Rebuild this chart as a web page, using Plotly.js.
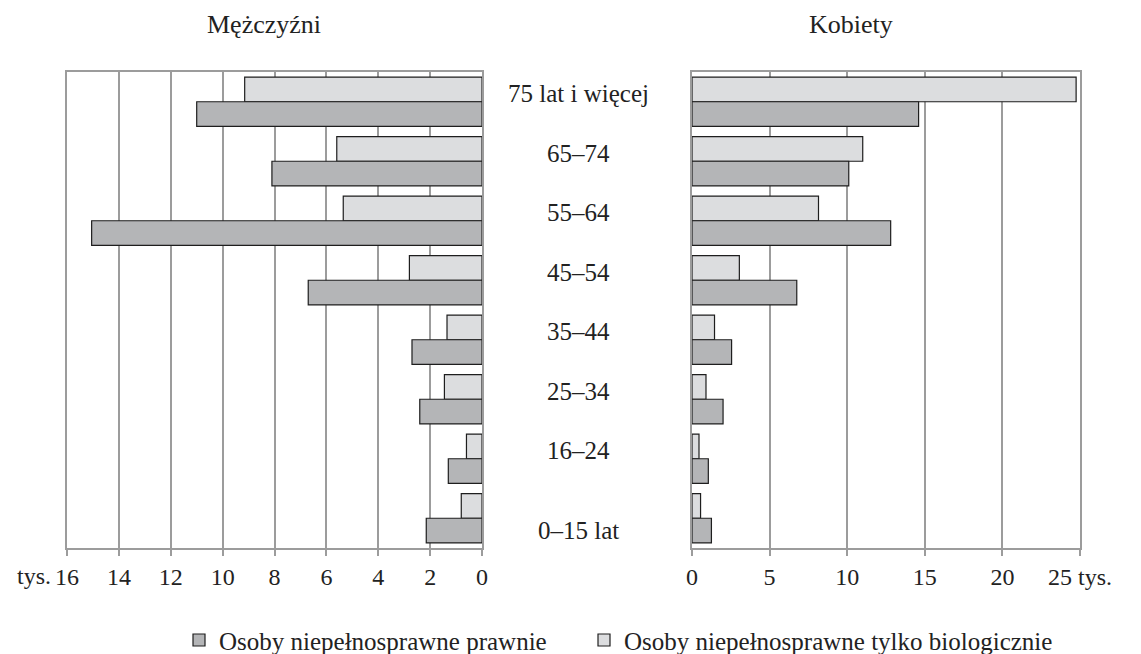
<!DOCTYPE html>
<html>
<head>
<meta charset="utf-8">
<script src="https://cdn.plot.ly/plotly-3.0.1.min.js"></script>
<style>html,body{margin:0;padding:0;background:#fff;}#chart{width:1141px;height:654px;}</style>
</head>
<body>
<div id="chart"></div>
<script>
// Age groups (top to bottom)
const categories = ["75 lat i więcej", "65–74", "55–64", "45–54", "35–44", "25–34", "16–24", "0–15 lat"];
// Men (thousands)
const menLegal = [11.0, 8.1, 15.05, 6.7, 2.7, 2.4, 1.3, 2.15];
const menBiological = [9.15, 5.6, 5.35, 2.8, 1.35, 1.45, 0.6, 0.8];
// Women (thousands)
const womenLegal = [14.6, 10.1, 12.8, 6.75, 2.55, 2.0, 1.05, 1.25];
const womenBiological = [24.75, 11.0, 8.15, 3.05, 1.45, 0.9, 0.45, 0.55];
const seriesNames = ["Osoby niepełnosprawne prawnie", "Osoby niepełnosprawne tylko biologicznie"];
const panelTitles = ["Mężczyźni", "Kobiety"];
const menTickVals = [16, 14, 12, 10, 8, 6, 4, 2, 0];
const menTickText = ["16", "14", "12", "10", "8", "6", "4", "2", "0"];
const womenTickVals = [0, 5, 10, 15, 20, 25];
const womenTickText = ["0", "5", "10", "15", "20", "25 tys."];

const FONT = "Liberation Serif, Times New Roman, serif";
const DARK = "#b4b5b7", LIGHT = "#dcdddf", EDGE = "#1e1e1e", GRID = "#9c9c9c";

function bar(x, name, color, xa, ya, show, lg) {
  return {type: "bar", orientation: "h", x: x, y: categories, name: name,
    xaxis: xa, yaxis: ya, showlegend: show, legend: lg,
    marker: {color: color, line: {color: EDGE, width: 1.2}}, hoverinfo: "x+y"};
}
const traces = [
  bar(menBiological, seriesNames[1], LIGHT, "x", "y", true, "legend2"),
  bar(menLegal, seriesNames[0], DARK, "x", "y", true, "legend"),
  bar(womenBiological, seriesNames[1], LIGHT, "x2", "y2", false, "legend2"),
  bar(womenLegal, seriesNames[0], DARK, "x2", "y2", false, "legend")
];

const axisCommon = {showgrid: true, gridcolor: GRID, gridwidth: 2, showline: true, linecolor: GRID, linewidth: 2,
  mirror: true, ticks: "outside", ticklen: 6, tickwidth: 2, tickcolor: GRID, zeroline: false,
  tickfont: {family: FONT, size: 24, color: "#222"}, fixedrange: true};

const annotations = [];
panelTitles.forEach((t, i) => annotations.push({text: t, xref: "paper", yref: "paper",
  x: i === 0 ? 0.1945 : 0.774, y: 1.099, xanchor: "center", yanchor: "middle", showarrow: false,
  font: {family: FONT, size: 26, color: "#222"}}));
categories.forEach((c, i) => annotations.push({text: c, xref: "paper", yref: "y", x: 0.5054, y: c,
  xanchor: "center", yanchor: "middle", showarrow: false, yshift: i === categories.length - 1 ? -12 : 8,
  font: {family: FONT, size: 25, color: "#222"}}));
annotations.push({text: "tys.", xref: "x", yref: "paper", x: 16, y: 0, xanchor: "right", yanchor: "middle",
  xshift: -14, yshift: -28, showarrow: false, font: {family: FONT, size: 24, color: "#222"}});

const legendCommon = {orientation: "h", xref: "container", yref: "container", y: 0.021, yanchor: "middle", xanchor: "left",
  font: {family: FONT, size: 25, color: "#222"}, itemwidth: 30, bgcolor: "rgba(0,0,0,0)"};

const layout = {
  width: 1141, height: 654,
  margin: {l: 67, r: 61, t: 72, b: 106},
  paper_bgcolor: "#fff", plot_bgcolor: "#fff",
  barmode: "group", bargap: 0.17, bargroupgap: 0,
  xaxis: Object.assign({}, axisCommon, {domain: [0, 0.4097], range: [16, 0], tickvals: menTickVals, ticktext: menTickText}),
  xaxis2: Object.assign({}, axisCommon, {domain: [0.617, 1], range: [0, 25], tickvals: womenTickVals, ticktext: womenTickText, anchor: "y2"}),
  yaxis: {type: "category", categoryorder: "array", categoryarray: categories, autorange: "reversed",
    showticklabels: false, showgrid: false, showline: true, linecolor: GRID, linewidth: 2, mirror: true,
    ticks: "", zeroline: false, anchor: "x", fixedrange: true},
  yaxis2: {type: "category", categoryorder: "array", categoryarray: categories, autorange: "reversed",
    showticklabels: false, showgrid: false, showline: true, linecolor: GRID, linewidth: 2, mirror: true,
    ticks: "", zeroline: false, anchor: "x2", matches: "y", fixedrange: true},
  showlegend: true,
  legend: Object.assign({}, legendCommon, {x: 179 / 1141}),
  legend2: Object.assign({}, legendCommon, {x: 584 / 1141}),
  annotations: annotations
};

Plotly.newPlot("chart", traces, layout, {displayModeBar: false, staticPlot: true});
</script>
</body>
</html>
